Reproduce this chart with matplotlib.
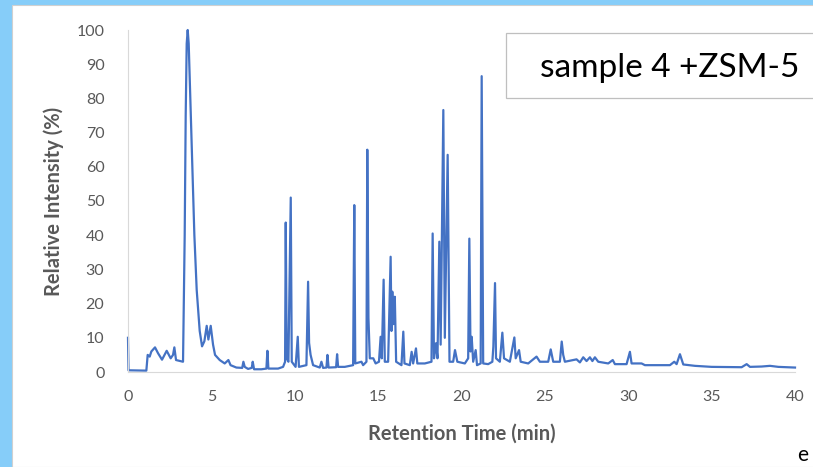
import matplotlib.pyplot as plt
from matplotlib.patches import Rectangle

# chromatogram (retention time in min, relative intensity in %)
rt_min = [
    0.00, 0.03, 1.10, 1.18, 1.30, 1.40, 1.62, 1.80, 2.04, 2.32, 2.56, 2.70, 2.78, 2.88,
    3.30, 3.40, 3.46, 3.52, 3.58, 3.64, 3.70, 3.82, 3.98, 4.12, 4.30, 4.44, 4.58, 4.72,
    4.82, 4.96, 5.10, 5.22, 5.50, 5.80, 6.02, 6.15, 6.50, 6.85, 6.92, 7.00, 7.20, 7.42,
    7.48, 7.56, 8.00, 8.30, 8.36, 8.42, 9.00, 9.30, 9.42, 9.46, 9.52, 9.62, 9.76, 9.82,
    10.05, 10.18, 10.25, 10.70, 10.80, 10.86, 10.95, 11.10, 11.50, 11.60, 11.70, 11.90,
    11.96, 12.03, 12.48, 12.54, 12.60, 13.00, 13.50, 13.57, 13.63, 14.00, 14.10, 14.30,
    14.35, 14.42, 14.50, 14.71, 14.85, 15.05, 15.15, 15.22, 15.33, 15.40, 15.60, 15.75,
    15.80, 15.85, 15.92, 16.00, 16.08, 16.40, 16.51, 16.58, 16.90, 17.01, 17.10, 17.27,
    17.35, 17.80, 18.20, 18.27, 18.35, 18.47, 18.56, 18.67, 18.75, 18.91, 19.00, 19.17,
    19.28, 19.50, 19.61, 19.75, 20.20, 20.40, 20.47, 20.54, 20.61, 20.70, 20.85, 20.93,
    21.15, 21.21, 21.30, 21.60, 21.85, 21.91, 22.01, 22.07, 22.30, 22.45, 22.55, 22.90,
    23.17, 23.25, 23.45, 23.55, 24.00, 24.50, 24.70, 25.20, 25.35, 25.50, 25.90, 26.01,
    26.10, 26.20, 26.90, 27.10, 27.30, 27.50, 27.70, 27.85, 28.00, 28.20, 28.80, 29.07,
    29.20, 29.90, 30.10, 30.20, 30.80, 31.00, 32.50, 32.76, 32.90, 33.10, 33.30, 34.00,
    35.00, 36.80, 37.10, 37.30, 38.00, 38.50, 39.00, 40.00,
]
intensity = [
    10.0, 0.5, 0.4, 5.0, 4.5, 6.0, 7.2, 5.5, 3.6, 6.2, 4.0, 5.0, 7.2, 3.5,
    3.0, 40.0, 75.0, 96.0, 100.0, 96.0, 86.0, 66.0, 40.0, 24.0, 12.0, 7.5, 9.0, 13.5,
    9.5, 13.5, 8.0, 5.0, 3.5, 2.5, 3.5, 2.0, 1.3, 1.2, 3.0, 1.5, 0.9, 1.2,
    3.0, 0.8, 0.8, 1.0, 6.2, 1.0, 1.0, 1.5, 3.0, 43.7, 4.0, 3.0, 51.0, 3.0,
    1.5, 10.3, 1.5, 2.0, 26.4, 8.5, 5.0, 2.0, 1.3, 3.0, 1.2, 1.3,
    5.0, 1.3, 1.4, 5.2, 1.5, 1.5, 2.0, 48.8, 2.5, 3.0, 2.0, 3.0,
    65.0, 15.8, 4.0, 4.0, 2.5, 3.0, 10.3, 4.0, 27.0, 3.0, 3.0, 33.7,
    12.0, 23.5, 14.0, 22.0, 3.0, 2.0, 11.8, 2.5, 2.0, 5.9, 2.5, 6.9,
    2.5, 2.5, 3.0, 40.5, 4.0, 8.4, 4.0, 38.1, 8.0, 76.6, 10.0, 63.5,
    3.0, 3.0, 6.4, 3.0, 2.5, 4.0, 39.0, 6.0, 10.3, 3.0, 6.4, 2.0,
    2.5, 86.5, 2.5, 2.3, 3.0, 7.4, 26.0, 4.0, 3.0, 11.5, 4.0, 3.0,
    10.1, 4.0, 6.4, 3.0, 2.5, 4.5, 3.0, 3.0, 6.6, 3.0, 3.0, 8.9,
    5.0, 3.0, 3.7, 2.8, 4.3, 3.2, 4.3, 3.2, 4.3, 3.0, 2.5, 3.5,
    2.3, 2.3, 5.9, 2.5, 2.5, 2.0, 2.0, 3.0, 2.3, 5.2, 2.2, 1.8,
    1.5, 1.4, 2.3, 1.5, 1.6, 1.8, 1.5, 1.3,
]

x_ticks = [0, 5, 10, 15, 20, 25, 30, 35, 40]
y_ticks = [0, 10, 20, 30, 40, 50, 60, 70, 80, 90, 100]
sample_label = "sample 4 +ZSM-5"

plt.rcParams['font.family'] = ['Lato', 'DejaVu Sans']

W, H = 813, 467
fig = plt.figure(figsize=(W / 100, H / 100), dpi=100)
fig.patch.set_facecolor('#86CDF9')

# white panel of the slide, behind everything
panel = Rectangle((12 / W, 0), 1, 1 - 5 / H, transform=fig.transFigure,
                  facecolor='white', edgecolor='#D0D0D0', linewidth=0.8, zorder=-5)
fig.add_artist(panel)

ax = fig.add_axes([128 / W, 1 - 372 / H, 667 / W, 342 / H])
ax.set_facecolor('none')
ax.plot(rt_min, intensity, color='#4472C4', linewidth=1.6, clip_on=False)

ax.set_xlim(0, 40)
ax.set_ylim(0, 100)
ax.set_xticks(x_ticks)
ax.set_yticks(y_ticks)
ax.tick_params(axis='both', length=0, labelsize=11.5, labelcolor='#595959')
ax.tick_params(axis='y', pad=17)
ax.tick_params(axis='x', pad=13)

for side in ['top', 'right']:
    ax.spines[side].set_visible(False)
ax.spines['left'].set_color('#D9D9D9')
ax.spines['bottom'].set_color('#D9D9D9')

ax.set_xlabel("Retention Time (min)", fontsize=14.5, fontweight='bold', color='#595959', labelpad=14)
ax.set_ylabel("Relative Intensity (%)", fontsize=14.5, fontweight='bold', color='#595959', labelpad=9)

# label box in the upper right, running off the edge
box = Rectangle((506 / W, 1 - 98 / H), 320 / W, 65 / H, transform=fig.transFigure,
                facecolor='white', edgecolor='#BFBFBF', linewidth=0.9, zorder=2)
fig.add_artist(box)
fig.text(540 / W, 1 - 68 / H, sample_label, fontsize=24, color='black',
         va='center', ha='left', zorder=3)

fig.text(803 / W, 1 - 455 / H, "e", fontsize=15, color='black', ha='center', va='center')

fig.savefig("out.png", dpi=100, facecolor=fig.get_facecolor())
